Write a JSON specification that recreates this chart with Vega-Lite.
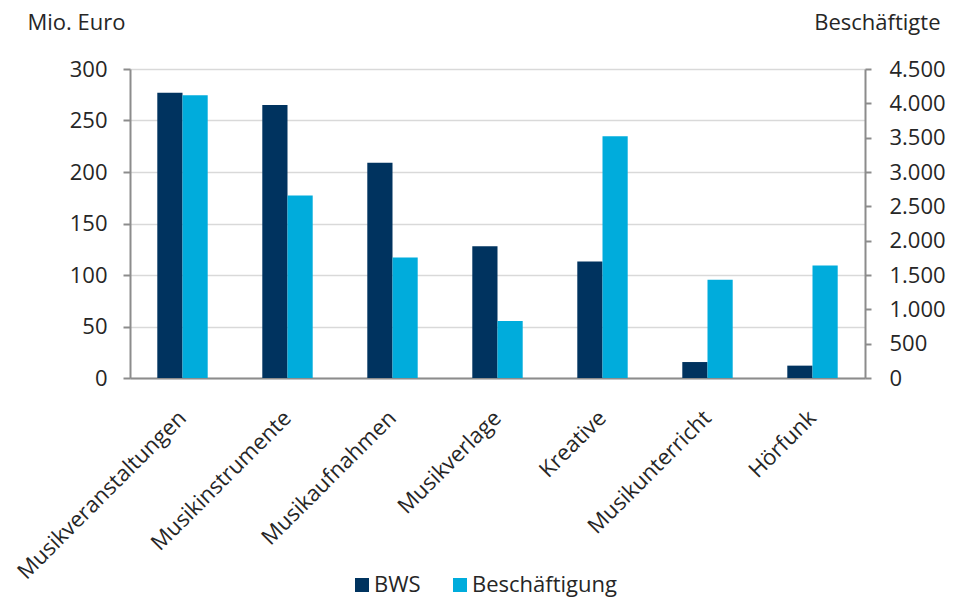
{
  "$schema": "https://vega.github.io/schema/vega-lite/v6.json",
  "width": 735,
  "height": 309,
  "autosize": {"type": "none"},
  "padding": {"left": 130, "top": 69, "right": 88, "bottom": 221},
  "config": {
    "view": {"stroke": null},
    "font": "Open Sans",
    "axis": {"labelColor": "#262626", "titleColor": "#262626", "labelFontSize": 22, "titleFontSize": 22, "titleFontWeight": "normal"}
  },
  "data": {
    "values": [
      {"Bereich": "Musikveranstaltungen", "Reihe": "BWS", "Wert": 277},
      {"Bereich": "Musikinstrumente", "Reihe": "BWS", "Wert": 265},
      {"Bereich": "Musikaufnahmen", "Reihe": "BWS", "Wert": 209},
      {"Bereich": "Musikverlage", "Reihe": "BWS", "Wert": 128},
      {"Bereich": "Kreative", "Reihe": "BWS", "Wert": 113},
      {"Bereich": "Musikunterricht", "Reihe": "BWS", "Wert": 15.5},
      {"Bereich": "Hörfunk", "Reihe": "BWS", "Wert": 12},
      {"Bereich": "Musikveranstaltungen", "Reihe": "Beschäftigung", "Wert": 4116},
      {"Bereich": "Musikinstrumente", "Reihe": "Beschäftigung", "Wert": 2659},
      {"Bereich": "Musikaufnahmen", "Reihe": "Beschäftigung", "Wert": 1756},
      {"Bereich": "Musikverlage", "Reihe": "Beschäftigung", "Wert": 830},
      {"Bereich": "Kreative", "Reihe": "Beschäftigung", "Wert": 3519},
      {"Bereich": "Musikunterricht", "Reihe": "Beschäftigung", "Wert": 1431},
      {"Bereich": "Hörfunk", "Reihe": "Beschäftigung", "Wert": 1640}
    ]
  },
  "encoding": {
    "x": {
      "field": "Bereich",
      "type": "nominal",
      "sort": null,
      "scale": {"paddingInner": 0.52, "paddingOuter": 0.26},
      "axis": {
        "title": null,
        "labelAngle": -45,
        "labelAlign": "right",
        "labelBaseline": "middle",
        "labelLimit": 0,
        "ticks": false,
        "tickSize": 0,
        "domainColor": "#8c8c8c",
        "domainWidth": 2,
        "labelPadding": 36
      }
    },
    "xOffset": {
      "field": "Reihe",
      "type": "nominal",
      "scale": {"domain": ["BWS", "Beschäftigung"], "paddingInner": 0, "paddingOuter": 0}
    },
    "color": {
      "field": "Reihe",
      "type": "nominal",
      "scale": {"domain": ["BWS", "Beschäftigung"], "range": ["#00335f", "#00acdc"]},
      "legend": {
        "orient": "none",
        "legendX": 221,
        "legendY": 505,
        "direction": "horizontal",
        "title": null,
        "symbolType": "square",
        "symbolSize": 196,
        "symbolStrokeWidth": 0,
        "labelFontSize": 22,
        "labelColor": "#262626",
        "labelLimit": 0,
        "labelOffset": 1,
        "columnPadding": 28
      }
    }
  },
  "layer": [
    {
      "transform": [{"filter": "datum.Reihe === 'BWS'"}],
      "mark": "bar",
      "encoding": {
        "y": {
          "field": "Wert",
          "type": "quantitative",
          "scale": {"domain": [0, 300], "nice": false},
          "axis": {
            "title": "Mio. Euro",
            "titleAngle": 0,
            "titleAlign": "left",
            "titleBaseline": "middle",
            "titleX": -103,
            "titleY": -47,
            "values": [0, 50, 100, 150, 200, 250, 300],
            "grid": true,
            "gridColor": "#d9d9d9",
            "gridWidth": 1.5,
            "domainColor": "#8c8c8c",
            "domainWidth": 2,
            "tickColor": "#8c8c8c",
            "tickWidth": 2,
            "tickSize": 7,
            "labelPadding": 16
          }
        }
      }
    },
    {
      "transform": [{"filter": "datum.Reihe === 'Beschäftigung'"}],
      "mark": "bar",
      "encoding": {
        "y": {
          "field": "Wert",
          "type": "quantitative",
          "scale": {"domain": [0, 4500], "nice": false},
          "axis": {
            "orient": "right",
            "title": "Beschäftigte",
            "titleAngle": 0,
            "titleAlign": "right",
            "titleBaseline": "middle",
            "titleX": 75,
            "titleY": -47,
            "values": [0, 500, 1000, 1500, 2000, 2500, 3000, 3500, 4000, 4500],
            "labelExpr": "replace(format(datum.value, ','), ',', '.')",
            "grid": false,
            "domainColor": "#8c8c8c",
            "domainWidth": 2,
            "tickColor": "#8c8c8c",
            "tickWidth": 2,
            "tickSize": 6,
            "labelPadding": 18
          }
        }
      }
    }
  ],
  "resolve": {"scale": {"y": "independent"}}
}
